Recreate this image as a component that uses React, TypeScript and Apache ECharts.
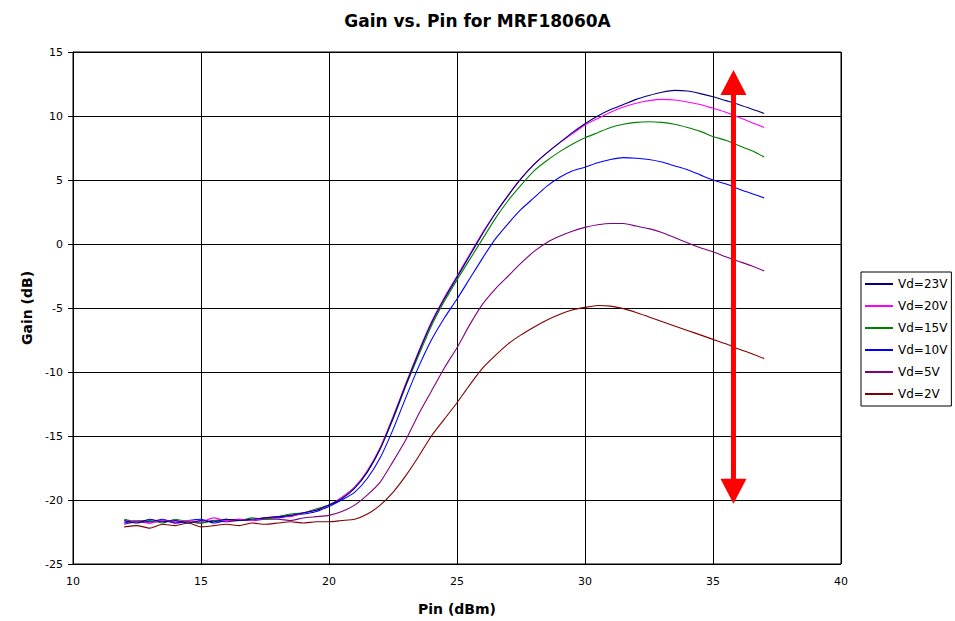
import React, { useEffect, useRef } from "react";
import * as echarts from "echarts";

const pinValues = [
  12, 12.5, 13, 13.5, 14, 14.5, 15, 15.5, 16, 16.5, 17, 17.5, 18, 18.5, 19, 19.5,
  20, 20.5, 21, 21.5, 22, 22.5, 23, 23.5, 24, 24.5, 25, 25.5, 26, 26.5, 27, 27.5,
  28, 28.5, 29, 29.5, 30, 30.5, 31, 31.5, 32, 32.5, 33, 33.5, 34, 34.5, 35, 35.5,
  36, 36.5, 37,
];

const gain23V = [
  -21.6, -21.8, -21.5, -21.7, -21.6, -21.8, -21.6, -21.7, -21.5, -21.6, -21.5, -21.4, -21.3, -21.2, -21.0, -20.8,
  -20.4, -19.9, -19.1, -17.8, -16.0, -13.6, -11.0, -8.5, -6.2, -4.3, -2.6, -0.9, 0.8, 2.4, 3.8, 5.1,
  6.2, 7.1, 7.9, 8.7, 9.4, 10.0, 10.5, 10.9, 11.3, 11.6, 11.85, 12.0, 11.95, 11.75, 11.5, 11.2,
  10.9, 10.55, 10.2,
];

const gain20V = [
  -21.7, -21.6, -21.8, -21.6, -21.7, -21.6, -21.7, -21.4, -21.6, -21.5, -21.6, -21.4, -21.3, -21.3, -21.0, -20.8,
  -20.4, -19.8, -19.0, -17.7, -15.9, -13.5, -10.9, -8.4, -6.1, -4.2, -2.5, -0.8, 0.9, 2.4, 3.8, 5.1,
  6.2, 7.1, 7.9, 8.6, 9.3, 9.8, 10.3, 10.7, 11.0, 11.2, 11.3, 11.25, 11.1, 10.9, 10.6, 10.3,
  9.9, 9.5, 9.1,
];

const gain15V = [
  -21.5, -21.7, -21.6, -21.8, -21.5, -21.7, -21.8, -21.6, -21.5, -21.6, -21.4, -21.5, -21.3, -21.1, -21.0, -20.7,
  -20.4, -19.8, -19.0, -17.8, -16.0, -13.7, -11.1, -8.7, -6.4, -4.5, -2.8, -1.2, 0.4, 2.0, 3.4, 4.6,
  5.7, 6.5, 7.2, 7.8, 8.3, 8.7, 9.1, 9.35, 9.5, 9.55, 9.5, 9.35, 9.1, 8.8, 8.4, 8.1,
  7.7, 7.3, 6.8,
];

const gain10V = [
  -21.8, -21.6, -21.7, -21.5, -21.8, -21.6, -21.5, -21.8, -21.6, -21.5, -21.6, -21.4, -21.4, -21.2, -21.1, -20.9,
  -20.5, -20.0, -19.4, -18.3, -16.7, -14.5, -12.0, -9.6, -7.5, -5.8, -4.3, -2.7, -1.1, 0.4, 1.6, 2.7,
  3.6, 4.5, 5.2, 5.7, 6.0, 6.35, 6.6, 6.75, 6.7, 6.6, 6.4, 6.1, 5.8, 5.4, 5.0, 4.7,
  4.3, 3.95, 3.6,
];

const gain5V = [
  -21.9, -21.7, -21.8, -21.6, -21.8, -21.7, -21.8, -21.6, -21.7, -21.6, -21.6, -21.5, -21.5, -21.6, -21.4, -21.3,
  -21.2, -20.9, -20.4, -19.6, -18.6, -17.0, -15.3, -13.3, -11.5, -9.7, -8.1, -6.3, -4.7, -3.5, -2.5, -1.5,
  -0.6, 0.1, 0.6, 1.0, 1.3, 1.5, 1.6, 1.6, 1.4, 1.2, 0.9, 0.5, 0.1, -0.3, -0.6, -1.0,
  -1.35, -1.7, -2.1,
];

const gain2V = [
  -22.1, -22.0, -22.2, -21.9, -22.0, -21.8, -22.1, -22.0, -21.9, -22.0, -21.8, -21.9, -21.8, -21.7, -21.8, -21.7,
  -21.7, -21.6, -21.5, -21.1, -20.4, -19.4, -18.1, -16.6, -15.0, -13.7, -12.4, -11.0, -9.7, -8.7, -7.8, -7.1,
  -6.5, -5.95, -5.5, -5.15, -4.95, -4.8, -4.85, -5.05, -5.35, -5.7, -6.05, -6.4, -6.75, -7.1, -7.45, -7.8,
  -8.2, -8.55, -8.95,
];

const seriesNames = ["Vd=23V", "Vd=20V", "Vd=15V", "Vd=10V", "Vd=5V", "Vd=2V"];
const seriesColors = ["#000080", "#FF00FF", "#008000", "#0000FF", "#800080", "#800000"];
const seriesData = [gain23V, gain20V, gain15V, gain10V, gain5V, gain2V];

// arrow annotation endpoints in data units
const arrowX = 35.8;
const arrowTop = 13.6;
const arrowBottom = -20.3;

const FONT = "'DejaVu Sans', 'Liberation Sans', Arial, sans-serif";

export default function App() {
  const ref = useRef<HTMLDivElement>(null);

  useEffect(() => {
    if (!ref.current) return;
    const chart = echarts.init(ref.current, undefined, { renderer: "svg" });

    const series = seriesNames.map((name, i) => ({
      name,
      type: "line",
      data: pinValues.map((x, j) => [x, seriesData[i][j]]),
      symbol: "none",
      smooth: 0.2,
      lineStyle: { color: seriesColors[i], width: 1.1 },
      itemStyle: { color: seriesColors[i] },
      z: 10 - i,
    }));

    chart.setOption({
      animation: false,
      backgroundColor: "#ffffff",
      textStyle: { fontFamily: FONT },
      title: {
        text: "Gain vs. Pin for MRF18060A",
        left: "center",
        top: 7,
        textStyle: { fontFamily: FONT, fontSize: 17, fontWeight: "bold", color: "#000" },
      },
      legend: {
        orient: "vertical",
        left: 861,
        top: 272,
        icon: "rect",
        itemWidth: 28,
        itemHeight: 2,
        itemGap: 10,
        padding: [6, 4, 6, 4],
        borderColor: "#000",
        borderWidth: 1,
        backgroundColor: "#fff",
        itemStyle: { borderWidth: 0 },
        textStyle: { fontFamily: FONT, fontSize: 12, color: "#000" },
        data: seriesNames,
      },
      grid: {
        left: 73,
        right: 114,
        top: 52,
        bottom: 56,
        show: true,
        borderColor: "#000",
        borderWidth: 1,
        backgroundColor: "#fff",
      },
      xAxis: {
        type: "value",
        min: 10,
        max: 40,
        interval: 5,
        name: "Pin (dBm)",
        nameLocation: "middle",
        nameGap: 38,
        nameTextStyle: { fontFamily: FONT, fontSize: 14, fontWeight: "bold", color: "#000" },
        axisLine: { show: true, lineStyle: { color: "#000", width: 1 } },
        axisTick: { show: true, length: 5, lineStyle: { color: "#000" } },
        axisLabel: { margin: 12, fontSize: 11, color: "#000", fontFamily: FONT },
        splitLine: { show: true, lineStyle: { color: "#000", width: 1 } },
      },
      yAxis: {
        type: "value",
        min: -25,
        max: 15,
        interval: 5,
        name: "Gain (dB)",
        nameLocation: "middle",
        nameGap: 38,
        nameTextStyle: { fontFamily: FONT, fontSize: 14, fontWeight: "bold", color: "#000" },
        axisLine: { show: true, lineStyle: { color: "#000", width: 1 } },
        axisTick: { show: true, length: 5, lineStyle: { color: "#000" } },
        axisLabel: { margin: 10, fontSize: 11, color: "#000", fontFamily: FONT },
        splitLine: { show: true, lineStyle: { color: "#000", width: 1 } },
      },
      series,
    });

    const top = chart.convertToPixel({ gridIndex: 0 }, [arrowX, arrowTop]) as number[];
    const bot = chart.convertToPixel({ gridIndex: 0 }, [arrowX, arrowBottom]) as number[];
    const headH = 25;
    const headW = 13;
    chart.setOption({
      graphic: [
        {
          type: "line",
          shape: { x1: top[0], y1: top[1] + headH - 2, x2: bot[0], y2: bot[1] - headH + 2 },
          style: { stroke: "#FF0000", lineWidth: 5 },
          z: 100,
        },
        {
          type: "polygon",
          shape: { points: [[top[0], top[1]], [top[0] - headW, top[1] + headH], [top[0] + headW, top[1] + headH]] },
          style: { fill: "#FF0000" },
          z: 100,
        },
        {
          type: "polygon",
          shape: { points: [[bot[0], bot[1]], [bot[0] - headW, bot[1] - headH], [bot[0] + headW, bot[1] - headH]] },
          style: { fill: "#FF0000" },
          z: 100,
        },
      ],
    });

    return () => chart.dispose();
  }, []);

  return <div ref={ref} style={{ width: 955, height: 621, position: "absolute", left: 0, top: 0 }} />;
}
